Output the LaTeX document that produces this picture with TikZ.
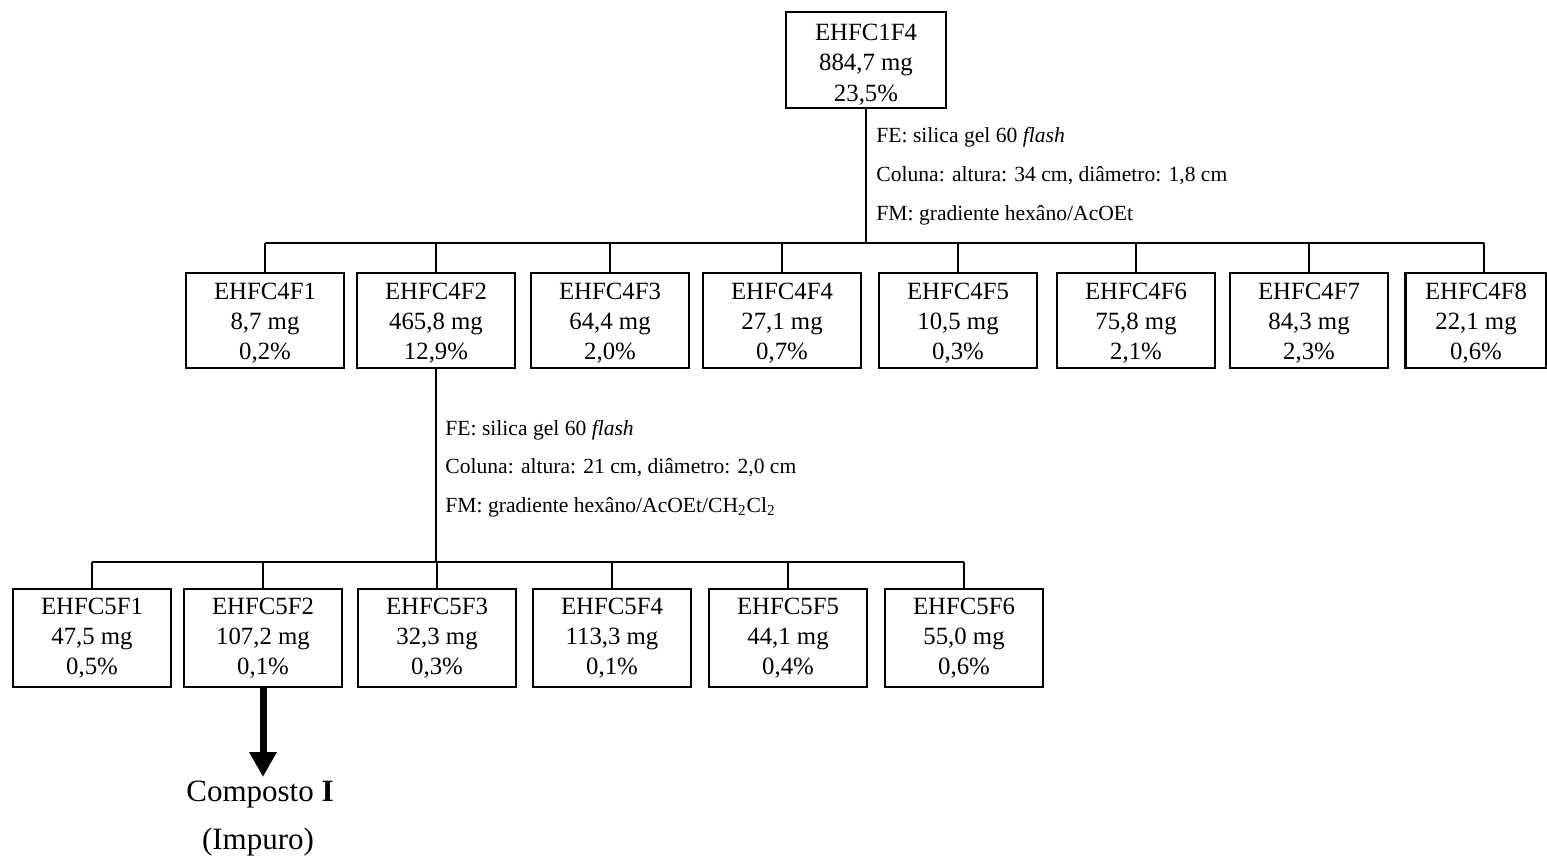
\documentclass[tikz,border=0pt]{standalone}
\usepackage{fontspec}
\setmainfont{Liberation Serif}
\usetikzlibrary{arrows.meta}
\newcommand{\tl}[4]{\rule{0pt}{#1}#2\\#3\\#4}
\tikzset{
  fbox/.style={draw, line width=1.4pt, minimum width=79pt, minimum height=47.5pt, inner sep=0pt, align=center, font=\fontsize{12.4}{15}\selectfont},
  lbl/.style={anchor=west, inner sep=0pt, font=\fontsize{10.8}{13}\selectfont},
  conn/.style={line width=1.2pt},
  bigarrow/.style={line width=3.5pt, -{Triangle[width=13pt,length=12.5pt]}},
}
\begin{document}
\begin{tikzpicture}[x=0.5pt,y=-0.5pt]
\useasboundingbox (0,0) rectangle (1547,865);
% top
\node[fbox, minimum width=80pt, minimum height=48pt, font=\fontsize{12.4}{15.25}\selectfont] (top) at (866,60) {\tl{12.7pt}{EHFC1F4}{884,7 mg}{23,5\%}};
\node[lbl] (l1a) at (876,137) {FE: silica gel 60 \textit{flash}};
\node[lbl] (l1b) at (876,176) {Coluna: altura: 34 cm, diâmetro: 1,8 cm};
\node[lbl] (l1c) at (876,215) {FM: gradiente hexâno/AcOEt};
\coordinate (bus1) at (866,243);
% row 2
\node[fbox] (c41) at (265,320.5) {\tl{11.2pt}{EHFC4F1}{8,7 mg}{0,2\%}};
\node[fbox] (c42) at (436,320.5) {\tl{11.2pt}{EHFC4F2}{465,8 mg}{12,9\%}};
\node[fbox] (c43) at (610,320.5) {\tl{11.2pt}{EHFC4F3}{64,4 mg}{2,0\%}};
\node[fbox] (c44) at (782,320.5) {\tl{11.2pt}{EHFC4F4}{27,1 mg}{0,7\%}};
\node[fbox] (c45) at (958,320.5) {\tl{11.2pt}{EHFC4F5}{10,5 mg}{0,3\%}};
\node[fbox] (c46) at (1136,320.5) {\tl{11.2pt}{EHFC4F6}{75,8 mg}{2,1\%}};
\node[fbox] (c47) at (1309,320.5) {\tl{11.2pt}{EHFC4F7}{84,3 mg}{2,3\%}};
\node[fbox, minimum width=70.5pt] (c48) at (1476,320.5) {\tl{11.2pt}{EHFC4F8}{22,1 mg}{0,6\%}};
\coordinate (d48) at (1484,273);
\draw[conn] (top.south) -- (bus1);
\draw[conn] (c41.north |- bus1) -- (d48 |- bus1);
\foreach \n in {c41,c42,c43,c44,c45,c46,c47} \draw[conn] (\n.north) -- (\n.north |- bus1);
\draw[conn] (d48) -- (d48 |- bus1);
% second labels
\node[lbl] (l2a) at (445,430) {FE: silica gel 60 \textit{flash}};
\node[lbl] (l2b) at (445,468) {Coluna: altura: 21 cm, diâmetro: 2,0 cm};
\node[lbl] (l2c) at (445,507) {FM: gradiente hexâno/AcOEt/CH\textsubscript{2}Cl\textsubscript{2}};
\coordinate (bus2) at (436,562);
% row 3
\node[fbox, minimum height=49pt] (c51) at (92,638) {\tl{8.2pt}{EHFC5F1}{47,5 mg}{0,5\%}};
\node[fbox, minimum height=49pt] (c52) at (263,638) {\tl{8.2pt}{EHFC5F2}{107,2 mg}{0,1\%}};
\node[fbox, minimum height=49pt] (c53) at (437,638) {\tl{8.2pt}{EHFC5F3}{32,3 mg}{0,3\%}};
\node[fbox, minimum height=49pt] (c54) at (612,638) {\tl{8.2pt}{EHFC5F4}{113,3 mg}{0,1\%}};
\node[fbox, minimum height=49pt] (c55) at (788,638) {\tl{8.2pt}{EHFC5F5}{44,1 mg}{0,4\%}};
\node[fbox, minimum height=49pt] (c56) at (964,638) {\tl{8.2pt}{EHFC5F6}{55,0 mg}{0,6\%}};
\draw[conn] (c42.south) -- (bus2);
\draw[conn] (c51.north |- bus2) -- (c56.north |- bus2);
\foreach \n in {c51,c52,c53,c54,c55,c56} \draw[conn] (\n.north) -- (\n.north |- bus2);
% result
\coordinate (tip) at (263,777);
\draw[bigarrow] (c52.south) -- (tip);
\node[inner sep=0pt, font=\fontsize{15.5}{17}\selectfont] (comp) at (260,795) {Composto \textbf{I}};
\node[inner sep=0pt, font=\fontsize{15.5}{17}\selectfont] (imp) at (258,842) {(Impuro)};
\end{tikzpicture}
\end{document}
